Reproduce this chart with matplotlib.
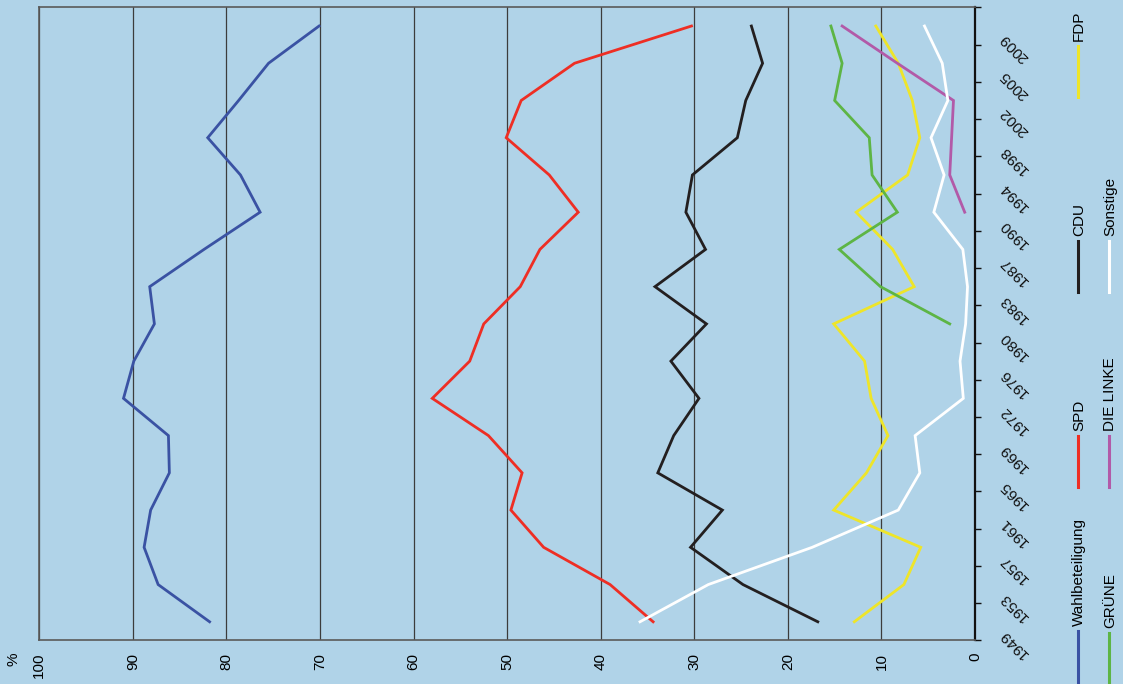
import numpy as np
import matplotlib
matplotlib.use('Agg')
import matplotlib.pyplot as plt
from matplotlib.lines import Line2D
from matplotlib.transforms import blended_transform_factory, offset_copy

plt.rcParams['font.family'] = ['Liberation Sans', 'DejaVu Sans']

nan = np.nan
jahre = ['1949', '1953', '1957', '1961', '1965', '1969', '1972', '1976', '1980',
         '1983', '1987', '1990', '1994', '1998', '2002', '2005', '2009']

wahlbeteiligung = [81.8, 87.3, 88.8, 88.1, 86.1, 86.2, 91.0, 89.9, 87.7,
                   88.2, 82.4, 76.4, 78.5, 82.0, 78.7, 75.5, 70.1]
spd = [34.4, 39.0, 46.1, 49.6, 48.4, 52.0, 58.0, 54.0, 52.5,
       48.6, 46.5, 42.4, 45.5, 50.1, 48.5, 42.8, 30.3]
cdu = [16.8, 24.8, 30.4, 27.0, 33.9, 32.2, 29.5, 32.5, 28.7,
       34.2, 28.8, 30.9, 30.2, 25.4, 24.5, 22.7, 23.9]
fdp = [12.9, 7.6, 5.8, 15.1, 11.6, 9.3, 11.1, 11.8, 15.1,
       6.5, 8.8, 12.7, 7.2, 5.9, 6.7, 8.2, 10.6]
gruene = [nan, nan, nan, nan, nan, nan, nan, nan, 2.7,
          10.1, 14.5, 8.3, 11.0, 11.3, 15.0, 14.2, 15.4]
linke = [nan, nan, nan, nan, nan, nan, nan, nan, nan,
         nan, nan, 1.1, 2.7, 2.5, 2.3, 8.3, 14.2]
sonstige = [35.8, 28.5, 17.4, 8.2, 5.9, 6.4, 1.25, 1.6, 1.0,
            0.8, 1.3, 4.4, 3.3, 4.7, 2.9, 3.5, 5.4]

reihen = [('Wahlbeteiligung', wahlbeteiligung, '#3a52a3'),
          ('SPD', spd, '#ee2e24'),
          ('CDU', cdu, '#231f20'),
          ('FDP', fdp, '#eee52a'),
          ('GRÜNE', gruene, '#5db545'),
          ('DIE LINKE', linke, '#b25aa8'),
          ('Sonstige', sonstige, '#ffffff')]

bg = '#b0d3e8'
W, H = 1123, 684

fig = plt.figure(figsize=(W / 100, H / 100), dpi=100, facecolor=bg)
ax = fig.add_axes([39.3 / W, (H - 640.4) / H, (975 - 39.3) / W, (640.4 - 7.4) / H])
ax.set_facecolor(bg)

# Diagramm ist um 90 Grad gedreht: Prozent waagerecht, Jahre senkrecht
y = np.arange(len(jahre))
for name, werte, farbe in reihen:
    ax.plot(werte, y, color=farbe, lw=2.0, solid_joinstyle='miter')

ax.set_xlim(100, 0)
ax.set_ylim(-0.5, len(jahre) - 0.5)

ax.set_xticks(np.arange(0, 101, 10))
ax.set_xticklabels([str(v) for v in range(0, 101, 10)], rotation=90, fontsize=11)
ax.tick_params(axis='x', length=0, pad=9)
ax.xaxis.grid(True, color='#3c3c3c', lw=0.9)
ax.set_axisbelow(True)

ax.yaxis.tick_right()
ax.set_yticks(np.arange(-0.5, len(jahre), 1))
ax.set_yticklabels([])
ax.tick_params(axis='y', direction='out', length=4.5, width=1.0, color='#111111')

for s in ['top', 'bottom', 'left']:
    ax.spines[s].set_color('#5a5a5a')
    ax.spines[s].set_linewidth(1.2)
ax.spines['right'].set_color('#111111')
ax.spines['right'].set_linewidth(1.6)

trans = blended_transform_factory(ax.transAxes, ax.transData)
trans = offset_copy(trans, fig=fig, x=21.5, y=-5.0, units='points')
for i, j in enumerate(jahre):
    ax.text(1.0, i, j, transform=trans, rotation=135, rotation_mode='anchor',
            ha='right', va='baseline', fontsize=11, color='#111111')

fig.text(14 / W, (H - 653) / H, '%', rotation=90, ha='center', va='top', fontsize=11)

# Legende (senkrecht)
legende = [(1078, 682, 0), (1078, 487, 1), (1078, 292, 2), (1078, 97, 3),
           (1109, 684, 4), (1109, 487, 5), (1109, 292, 6)]
for lx, ly, k in legende:
    name, werte, farbe = reihen[k]
    fig.add_artist(Line2D([lx / W, lx / W], [(H - ly) / H, (H - ly + 51) / H],
                          transform=fig.transFigure, color=farbe, lw=2.2))
    fig.text((lx + 1) / W, (H - ly + 56) / H, name, rotation=90,
             ha='center', va='bottom', fontsize=11)

fig.savefig('out.png', dpi=100, facecolor=bg)
